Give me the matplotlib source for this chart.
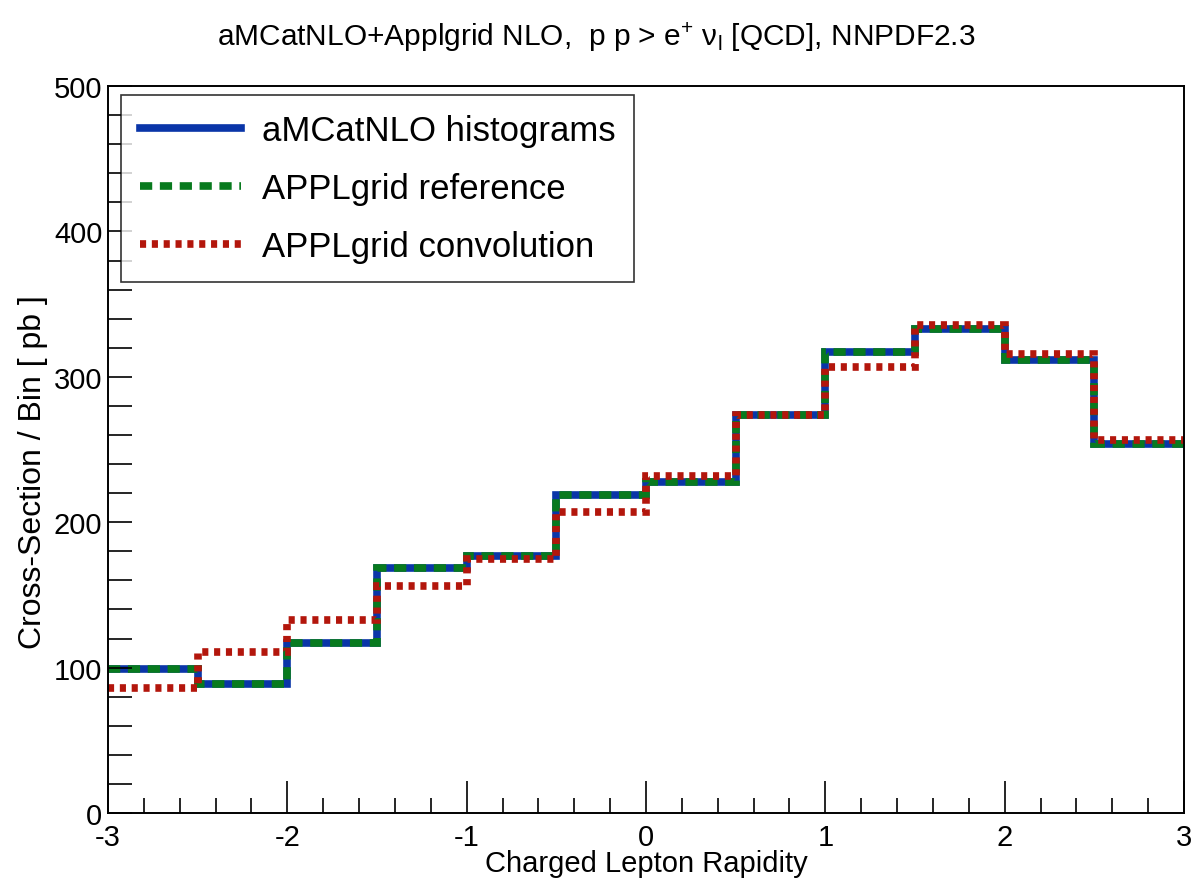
import matplotlib

matplotlib.use("Agg")
import matplotlib.pyplot as plt
from matplotlib.ticker import MultipleLocator

plt.rcParams["font.family"] = ["Liberation Sans", "DejaVu Sans"]
plt.rcParams["mathtext.fontset"] = "custom"
plt.rcParams["mathtext.rm"] = "Liberation Sans"
plt.rcParams["mathtext.it"] = "Liberation Sans"
plt.rcParams["axes.unicode_minus"] = False

bin_edges = [-3.0, -2.5, -2.0, -1.5, -1.0, -0.5, 0.0, 0.5, 1.0, 1.5, 2.0, 2.5, 3.0]
amcatnlo_hist = [99, 89, 117, 168.5, 177, 219, 228, 274, 317, 333, 311.5, 254]
applgrid_ref = [99, 89, 117, 168.5, 177, 219, 228, 274, 317, 333, 311.5, 254]
applgrid_conv = [86, 110.5, 132.5, 156, 174.5, 207, 232, 274, 307, 335.5, 316, 256.5]

fig = plt.figure(figsize=(11.92, 8.79), dpi=100)
ax = fig.add_axes([0.0906, 0.0739, 0.9027, 0.8271])

ax.stairs(amcatnlo_hist, bin_edges, baseline=None, color="#0a35a8", linewidth=5.5,
          label="aMCatNLO histograms")
ax.stairs(applgrid_ref, bin_edges, baseline=None, color="#087a1e", linewidth=5.5,
          linestyle=(0, (1.6, 1.0)), label="APPLgrid reference")
ax.stairs(applgrid_conv, bin_edges, baseline=None, color="#b3160c", linewidth=5.5,
          linestyle=(0, (0.8, 0.75)), label="APPLgrid convolution")

ax.set_xlim(-3, 3)
ax.set_ylim(0, 500)
ax.xaxis.set_major_locator(MultipleLocator(1))
ax.xaxis.set_minor_locator(MultipleLocator(0.2))
ax.yaxis.set_major_locator(MultipleLocator(100))
ax.yaxis.set_minor_locator(MultipleLocator(20))
ax.tick_params(axis="x", which="major", direction="in", length=23, width=1.2, labelsize=21, pad=7)
ax.tick_params(axis="x", which="minor", direction="in", length=11, width=1.2)
ax.tick_params(axis="y", which="both", direction="in", length=17, width=1.2, labelsize=21, pad=4)
for s in ax.spines.values():
    s.set_linewidth(1.4)

ax.set_xlabel("Charged Lepton Rapidity", fontsize=21, labelpad=-1)
ax.set_ylabel("Cross-Section / Bin [ pb ]", fontsize=23)
ax.yaxis.set_label_coords(-0.056, 0.47)

fig.text(0.5, 0.958, "aMCatNLO+Applgrid NLO,  p p > e$^{+}$ ν$_{\\mathrm{l}}$ [QCD], NNPDF2.3",
         ha="center", va="center", fontsize=21.5)

leg = ax.legend(loc="upper left", bbox_to_anchor=(0.012, 0.988), fontsize=25, frameon=True,
                fancybox=False, edgecolor="black", handlelength=2.9, handletextpad=0.6,
                labelspacing=0.72, borderpad=0.55, borderaxespad=0.0)
leg.get_frame().set_linewidth(1.2)

fig.savefig("out.png", dpi=100)
